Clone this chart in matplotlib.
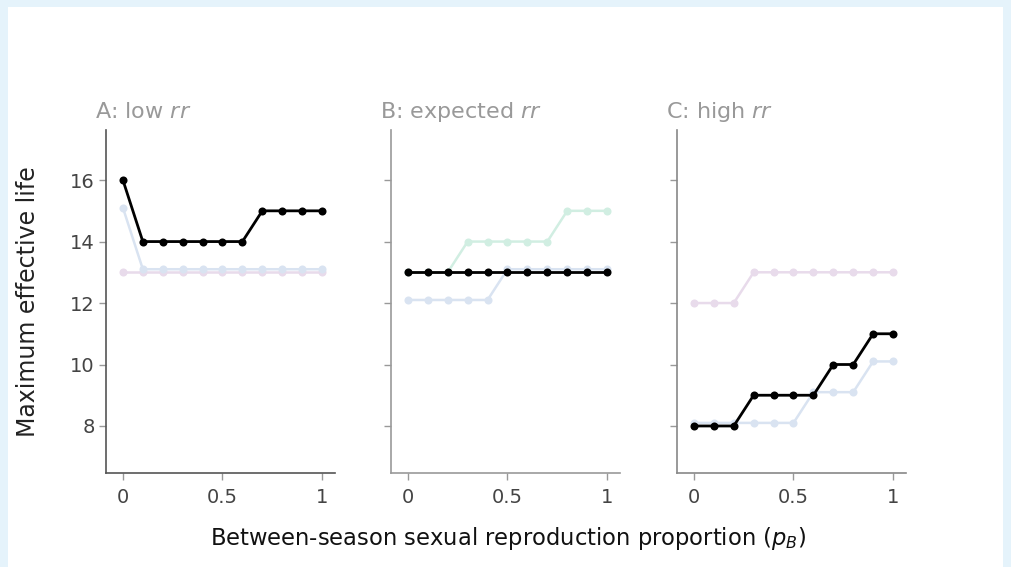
import matplotlib
matplotlib.use("Agg")
import matplotlib.pyplot as plt
from matplotlib.patches import Rectangle

plt.rcParams['font.family'] = ['DejaVu Sans']
plt.rcParams['mathtext.fontset'] = 'dejavusans'

x_vals = [0, 0.1, 0.2, 0.3, 0.4, 0.5, 0.6, 0.7, 0.8, 0.9, 1.0]

panel_titles = [r"A: low $\mathit{rr}$", r"B: expected $\mathit{rr}$", r"C: high $\mathit{rr}$"]

# Faint background series (per panel) and highlighted series
a_blue = [15.1, 13.1, 13.1, 13.1, 13.1, 13.1, 13.1, 13.1, 13.1, 13.1, 13.1]
a_lav = [13, 13, 13, 13, 13, 13, 13, 13, 13, 13, 13]
a_black = [16, 14, 14, 14, 14, 14, 14, 15, 15, 15, 15]

b_blue = [12.1, 12.1, 12.1, 12.1, 12.1, 13.1, 13.1, 13.1, 13.1, 13.1, 13.1]
b_green = [13, 13, 13, 14, 14, 14, 14, 14, 15, 15, 15]
b_black = [13, 13, 13, 13, 13, 13, 13, 13, 13, 13, 13]

c_lav = [12, 12, 12, 13, 13, 13, 13, 13, 13, 13, 13]
c_blue = [8.1, 8.1, 8.1, 8.1, 8.1, 8.1, 9.1, 9.1, 9.1, 10.1, 10.1]
c_black = [8, 8, 8, 9, 9, 9, 9, 10, 10, 11, 11]

y_ticks = [8, 10, 12, 14, 16]
x_ticks = [0, 0.5, 1]
x_tick_labels = ["0", "0.5", "1"]

c_blue_col = "#d9e3f1"
c_green_col = "#d1eee2"
c_lav_col = "#e8dbeb"

panels = [
    [(a_lav, c_lav_col), (a_blue, c_blue_col), (a_black, "black")],
    [(b_blue, c_blue_col), (b_green, c_green_col), (b_black, "black")],
    [(c_lav, c_lav_col), (c_blue, c_blue_col), (c_black, "black")],
]

W, H = 1012, 567
fig = plt.figure(figsize=(W / 100, H / 100), dpi=100)
fig.patch.set_facecolor("#e5f3fb")
fig.patches.append(Rectangle((8 / W, 0), (1003 - 8) / W, (H - 7) / H,
                             transform=fig.transFigure, facecolor="white",
                             edgecolor="none", zorder=-10))

lefts = [106, 391, 677]
ax_w = 229
top_px, bot_px = 130, 473
axis_cols = ["#555555", "#999999", "#888888"]

for i, (lp, series) in enumerate(zip(lefts, panels)):
    ax = fig.add_axes([lp / W, (H - bot_px) / H, ax_w / W, (bot_px - top_px) / H])
    ax.set_facecolor("none")
    for vals, col in series:
        z = 3 if col == "black" else 2
        lw = 2.0 if col == "black" else 1.8
        ax.plot(x_vals, vals, color=col, lw=lw, marker="o", ms=5.8,
                markeredgewidth=0, zorder=z, solid_joinstyle="round")
    ax.set_xlim(-0.085, 1.065)
    ax.set_ylim(6.47, 17.63)
    for s in ["top", "right"]:
        ax.spines[s].set_visible(False)
    for s in ["left", "bottom"]:
        ax.spines[s].set_color(axis_cols[i])
        ax.spines[s].set_linewidth(1.2)
    ax.set_xticks(x_ticks)
    ax.set_xticklabels(x_tick_labels)
    ax.set_yticks(y_ticks)
    if i > 0:
        ax.set_yticklabels([])
    ax.tick_params(axis="both", direction="out", length=5, width=1,
                   color="#999999", labelcolor="#444444", labelsize=14)
    ax.tick_params(axis="y", pad=3)
    ax.tick_params(axis="x", pad=6)
    fig.text((lp - 11) / W, 1 - 118 / H, panel_titles[i],
             fontsize=16, color="#999999", ha="left", va="baseline")

fig.text(28 / W, 1 - 302 / H, "Maximum effective life", rotation=90,
         ha="center", va="center", fontsize=17, color="#222222")
fig.text(508 / W, 1 - 539 / H, r"Between-season sexual reproduction proportion ($p_B$)",
         ha="center", va="center", fontsize=16.3, color="#111111")

fig.savefig("out.png", dpi=100, facecolor=fig.get_facecolor())
